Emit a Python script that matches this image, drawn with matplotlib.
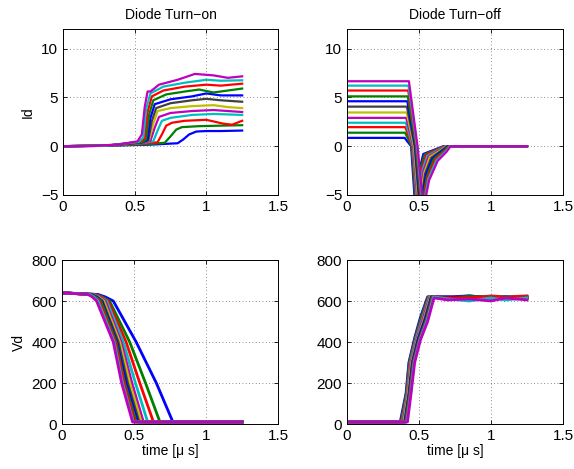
import matplotlib
matplotlib.use("Agg")
import matplotlib.pyplot as plt

plt.rcParams['font.family'] = ['Liberation Sans', 'DejaVu Sans']

# MATLAB-style colour cycle (b g r c m y k)
colors = [(0, 0, 1), (0, 0.5, 0), (1, 0, 0), (0, 0.75, 0.75), (0.75, 0, 0.75),
          (0.75, 0.75, 0), (0.25, 0.25, 0.25),
          (0, 0, 1), (0, 0.5, 0), (1, 0, 0), (0, 0.75, 0.75), (0.75, 0, 0.75)]

# ---- Diode turn-on: current Id [A] ----
on_id_t = [
    [0, 0.3, 0.60, 0.80, 0.84, 0.88, 0.93, 1.0, 1.1, 1.25],
    [0, 0.3, 0.60, 0.71, 0.75, 0.79, 0.83, 0.95, 1.1, 1.25],
    [0, 0.3, 0.55, 0.66, 0.69, 0.72, 0.76, 0.85, 1.0, 1.12, 1.18, 1.25],
    [0, 0.3, 0.55, 0.63, 0.66, 0.69, 0.75, 0.90, 1.05, 1.25],
    [0, 0.3, 0.55, 0.61, 0.64, 0.67, 0.75, 0.90, 1.05, 1.25],
    [0, 0.3, 0.55, 0.60, 0.63, 0.66, 0.75, 0.90, 1.05, 1.15, 1.25],
    [0, 0.3, 0.55, 0.595, 0.62, 0.65, 0.75, 0.90, 1.0, 1.1, 1.25],
    [0, 0.3, 0.55, 0.59, 0.61, 0.64, 0.75, 0.90, 1.0, 1.1, 1.25],
    [0, 0.3, 0.55, 0.58, 0.60, 0.63, 0.72, 0.85, 0.95, 1.05, 1.15, 1.25],
    [0, 0.3, 0.54, 0.57, 0.59, 0.62, 0.70, 0.85, 1.0, 1.1, 1.25],
    [0, 0.3, 0.53, 0.56, 0.58, 0.61, 0.70, 0.85, 1.0, 1.1, 1.25],
    [0, 0.2, 0.4, 0.52, 0.55, 0.57, 0.59, 0.61, 0.67, 0.80, 0.92, 1.05, 1.15, 1.25],
]
on_id_v = [
    [0, 0.05, 0.15, 0.3, 0.7, 1.2, 1.5, 1.55, 1.55, 1.6],
    [0, 0.05, 0.2, 0.35, 1.0, 1.7, 1.95, 2.05, 2.1, 2.15],
    [0, 0.05, 0.25, 0.4, 1.2, 2.1, 2.4, 2.6, 2.7, 2.3, 2.2, 2.6],
    [0, 0.05, 0.3, 0.5, 1.6, 2.6, 2.9, 3.2, 3.3, 3.2],
    [0, 0.05, 0.3, 0.55, 1.9, 3.0, 3.4, 3.6, 3.7, 3.5],
    [0, 0.05, 0.35, 0.6, 2.3, 3.6, 3.9, 4.1, 4.2, 4.0, 3.9],
    [0, 0.05, 0.35, 0.6, 2.6, 3.9, 4.4, 4.7, 4.85, 4.7, 4.55],
    [0, 0.05, 0.4, 0.65, 2.9, 4.3, 4.8, 5.1, 5.4, 5.2, 5.2],
    [0, 0.05, 0.4, 0.7, 3.2, 4.7, 5.3, 5.6, 5.8, 5.5, 5.7, 5.9],
    [0, 0.05, 0.45, 0.8, 3.5, 5.1, 5.7, 6.1, 6.3, 6.2, 6.4],
    [0, 0.05, 0.45, 0.9, 3.8, 5.4, 6.1, 6.5, 6.8, 6.7, 6.75],
    [0, 0.0, 0.2, 0.5, 1.2, 4.0, 5.6, 5.6, 6.3, 6.8, 7.4, 7.25, 7.0, 7.15],
]

# ---- Diode turn-off: current Id [A] ----
off_id_t = [
    [0, 0.400, 0.445, 0.475, 0.510, 0.530, 0.600, 0.670, 1.25],
    [0, 0.403, 0.449, 0.480, 0.515, 0.539, 0.608, 0.675, 1.25],
    [0, 0.405, 0.453, 0.485, 0.521, 0.548, 0.616, 0.679, 1.25],
    [0, 0.408, 0.457, 0.490, 0.526, 0.557, 0.625, 0.684, 1.25],
    [0, 0.411, 0.461, 0.495, 0.532, 0.566, 0.633, 0.688, 1.25],
    [0, 0.414, 0.465, 0.500, 0.537, 0.575, 0.641, 0.693, 1.25],
    [0, 0.416, 0.470, 0.505, 0.543, 0.585, 0.649, 0.697, 1.25],
    [0, 0.419, 0.474, 0.510, 0.548, 0.594, 0.657, 0.702, 1.25],
    [0, 0.422, 0.478, 0.515, 0.554, 0.603, 0.665, 0.706, 1.25],
    [0, 0.425, 0.482, 0.520, 0.559, 0.612, 0.674, 0.711, 1.25],
    [0, 0.427, 0.486, 0.525, 0.565, 0.621, 0.682, 0.715, 1.25],
    [0, 0.430, 0.490, 0.530, 0.570, 0.630, 0.690, 0.720, 1.25],
]
off_id_v = [
    [0.85, 0.85, 0, -6.5, -2.0, -0.80, -0.40, 0, 0],
    [1.38, 1.38, 0, -6.5, -2.1, -0.85, -0.42, 0, 0],
    [1.95, 1.95, 0, -6.5, -2.3, -0.90, -0.44, 0, 0],
    [2.40, 2.40, 0, -6.5, -2.4, -1.00, -0.46, 0, 0],
    [2.90, 2.90, 0, -6.5, -2.5, -1.05, -0.48, 0, 0],
    [3.45, 3.45, 0, -6.5, -2.7, -1.10, -0.50, 0, 0],
    [4.05, 4.05, 0, -6.5, -2.8, -1.20, -0.52, 0, 0],
    [4.60, 4.60, 0, -6.5, -2.95, -1.25, -0.54, 0, 0],
    [5.10, 5.10, 0, -6.5, -3.1, -1.30, -0.56, 0, 0],
    [5.70, 5.70, 0, -6.5, -3.2, -1.35, -0.57, 0, 0],
    [6.20, 6.20, 0, -6.5, -3.35, -1.45, -0.58, 0, 0],
    [6.65, 6.65, 0, -6.5, -3.5, -1.50, -0.60, 0, 0],
]

# ---- Diode turn-on: voltage Vd [V] ----
on_vd_t = [
    [0, 0.25, 0.30, 0.356, 0.515, 0.655, 0.770, 1.25],
    [0, 0.23, 0.28, 0.330, 0.470, 0.580, 0.680, 1.25],
    [0, 0.23, 0.27, 0.320, 0.445, 0.540, 0.635, 1.25],
    [0, 0.22, 0.26, 0.310, 0.425, 0.510, 0.595, 1.25],
    [0, 0.22, 0.26, 0.300, 0.410, 0.485, 0.565, 1.25],
    [0, 0.21, 0.25, 0.290, 0.400, 0.470, 0.550, 1.25],
    [0, 0.21, 0.24, 0.280, 0.390, 0.455, 0.535, 1.25],
    [0, 0.20, 0.24, 0.275, 0.380, 0.445, 0.525, 1.25],
    [0, 0.20, 0.23, 0.270, 0.375, 0.435, 0.515, 1.25],
    [0, 0.19, 0.22, 0.260, 0.370, 0.430, 0.505, 1.25],
    [0, 0.19, 0.22, 0.250, 0.362, 0.420, 0.495, 1.25],
    [0, 0.18, 0.21, 0.240, 0.356, 0.414, 0.490, 1.25],
]
on_vd_v = [[640, 632, 620, 600, 400, 200, 10, 10] for _ in range(12)]

# ---- Diode turn-off: voltage Vd [V] ----
off_vd_t = [
    [0, 0.370, 0.410, 0.430, 0.470, 0.510, 0.560, 0.70, 0.85, 1.0, 1.1, 1.25],
    [0, 0.375, 0.413, 0.433, 0.474, 0.515, 0.564, 0.70, 0.85, 1.0, 1.1, 1.25],
    [0, 0.380, 0.417, 0.437, 0.478, 0.520, 0.568, 0.70, 0.85, 1.0, 1.1, 1.25],
    [0, 0.385, 0.420, 0.441, 0.482, 0.525, 0.572, 0.70, 0.85, 1.0, 1.1, 1.25],
    [0, 0.390, 0.423, 0.445, 0.486, 0.530, 0.576, 0.70, 0.85, 1.0, 1.1, 1.25],
    [0, 0.395, 0.426, 0.449, 0.490, 0.535, 0.580, 0.70, 0.85, 1.0, 1.1, 1.25],
    [0, 0.400, 0.430, 0.453, 0.493, 0.540, 0.584, 0.70, 0.85, 1.0, 1.1, 1.25],
    [0, 0.403, 0.433, 0.456, 0.496, 0.544, 0.588, 0.70, 0.85, 1.0, 1.1, 1.25],
    [0, 0.407, 0.436, 0.460, 0.500, 0.548, 0.592, 0.70, 0.85, 1.0, 1.1, 1.25],
    [0, 0.411, 0.439, 0.463, 0.503, 0.552, 0.596, 0.70, 0.85, 1.0, 1.1, 1.25],
    [0, 0.415, 0.442, 0.466, 0.506, 0.556, 0.600, 0.70, 0.85, 1.0, 1.1, 1.25],
    [0, 0.420, 0.445, 0.470, 0.510, 0.560, 0.604, 0.70, 0.85, 1.0, 1.1, 1.25],
]
off_vd_v = [
    [10, 10, 150, 300, 420, 520, 620, 620, 625, 615, 620, 615],
    [10, 10, 150, 300, 420, 520, 620, 615, 620, 620, 615, 620],
    [10, 10, 150, 300, 420, 515, 620, 620, 615, 625, 620, 625],
    [10, 10, 150, 300, 420, 515, 620, 615, 610, 620, 610, 615],
    [10, 10, 150, 300, 415, 515, 620, 610, 620, 615, 620, 610],
    [10, 10, 150, 300, 415, 510, 620, 620, 615, 620, 615, 620],
    [10, 10, 150, 300, 415, 510, 620, 615, 625, 615, 620, 615],
    [10, 10, 150, 300, 415, 510, 620, 620, 615, 620, 615, 620],
    [10, 10, 150, 300, 410, 505, 620, 610, 620, 615, 620, 615],
    [10, 10, 150, 300, 410, 505, 620, 615, 615, 620, 615, 620],
    [10, 10, 150, 300, 410, 505, 620, 610, 600, 615, 605, 615],
    [10, 10, 150, 300, 410, 500, 615, 605, 610, 600, 615, 605],
]

fig = plt.figure(figsize=(5.74, 4.69), dpi=100)
W, H = 574, 469
boxes = [
    (63, 29, 278, 195), (347, 29, 563, 195),
    (62, 260, 278, 424), (347, 260, 563, 424),
]
axes = [fig.add_axes([l / W, 1 - b / H, (r - l) / W, (b - t) / H]) for l, t, r, b in boxes]

panels = [
    (on_id_t, on_id_v, 1.6), (off_id_t, off_id_v, 1.6),
    (on_vd_t, on_vd_v, 2.0), (off_vd_t, off_vd_v, 2.0),
]
for ax, (ts, vs, lw) in zip(axes, panels):
    for t, v, c in zip(ts, vs, colors):
        ax.plot(t, v, color=c, lw=lw)
    ax.set_xlim(0, 1.5)
    ax.set_xticks([0, 0.5, 1, 1.5])
    ax.set_xticklabels(['0', '0.5', '1', '1.5'])
    ax.grid(True, linestyle=(0, (1, 3)), color='k', linewidth=0.6, alpha=0.6)
    ax.tick_params(direction='in', top=True, right=True, length=3,
                   labelsize=11, width=0.6)
    for s in ax.spines.values():
        s.set_linewidth(0.7)

for ax in axes[:2]:
    ax.set_ylim(-5, 12)
    ax.set_yticks([-5, 0, 5, 10])
    ax.set_yticklabels(['\u22125', '0', '5', '10'])
for ax in axes[2:]:
    ax.set_ylim(0, 800)
    ax.set_yticks([0, 200, 400, 600, 800])
    ax.set_xlabel('time [\u03bc s]', fontsize=10, labelpad=1)

axes[0].set_title('Diode Turn\u2212on', fontsize=10, pad=7)
axes[1].set_title('Diode Turn\u2212off', fontsize=10, pad=7)
axes[0].set_ylabel('Id', fontsize=10)
axes[2].set_ylabel('Vd', fontsize=10)

fig.savefig('out.png', dpi=100)
